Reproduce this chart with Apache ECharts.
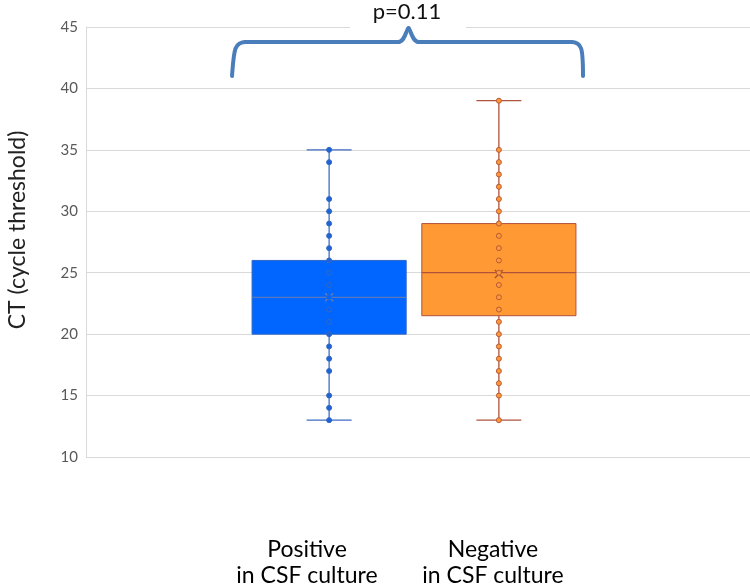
<!DOCTYPE html>
<html>
<head>
<meta charset="utf-8">
<script src="https://cdn.jsdelivr.net/npm/echarts@6/dist/echarts.min.js"></script>
<style>html,body{margin:0;padding:0;background:#fff}#c{width:750px;height:587px}</style>
</head>
<body>
<div id="c"></div>
<script>
// ---- data ----
const categories = ['Positive\nin CSF culture', 'Negative\nin CSF culture'];
const yTicks = [10, 15, 20, 25, 30, 35, 40, 45];
// [min, Q1, median, Q3, max, mean]
const positiveStats = [13, 20, 23, 26, 35, 23];
const negativeStats = [13, 21.5, 25, 29, 39, 24.9];
const positivePoints = [35, 34, 31, 30, 29, 28, 27, 26, 25, 24, 23, 22, 21, 20, 19, 18, 17, 15, 14, 13];
const negativePoints = [39, 35, 34, 33, 32, 31, 30, 29, 28, 27, 26, 25, 24, 23, 22, 21, 20, 19, 18, 17, 16, 15, 13];
const pValueText = 'p=0.11';
const yAxisTitle = 'CT (cycle threshold)';

const FONT = 'Lato, "Open Sans", sans-serif';
const styles = [
  { fill: '#0066FF', border: '#2F66C8', whisker: '#3F6DC2', median: '#5A79B8', mean: '#6D80B0', ptFill: '#1E64D8', ptBorder: '#3468BE' },
  { fill: '#FF9933', border: '#B0533C', whisker: '#B0533C', median: '#B0533C', mean: '#A4503A', ptFill: '#FF9933', ptBorder: '#B85A3A' }
];

const chart = echarts.init(document.getElementById('c'), null, { renderer: 'canvas' });

const boxData = [
  [0].concat(positiveStats),
  [1].concat(negativeStats)
];

const yMin = yTicks[0], yMax = yTicks[yTicks.length - 1];

function yAxisBase(idx, show) {
  return {
    type: 'value', gridIndex: idx, min: yMin, max: yMax, interval: 5,
    show: show
  };
}

const option = {
  animation: false,
  backgroundColor: '#fff',
  grid: [
    { left: 86, right: 0, top: 27, height: 430, containLabel: false, outerBoundsMode: 'none' },
    { left: 244.25, width: 339.5, top: 27, height: 430, containLabel: false, outerBoundsMode: 'none' },
    { left: 214, width: 372, top: 27, height: 430, containLabel: false, outerBoundsMode: 'none' }
  ],
  xAxis: [
    { type: 'category', gridIndex: 0, data: [''], show: false },
    { type: 'category', gridIndex: 1, data: categories, show: false },
    { type: 'category', gridIndex: 2, data: categories,
      axisLine: { show: false }, axisTick: { show: false },
      axisLabel: { margin: 80, fontSize: 23, lineHeight: 26, color: '#000', fontFamily: FONT, interval: 0 } }
  ],
  yAxis: [
    Object.assign(yAxisBase(0, true), {
      axisLine: { show: true, lineStyle: { color: '#d9d9d9', width: 1 } },
      axisTick: { show: false },
      axisLabel: { margin: 8, fontSize: 15, color: '#595959', fontFamily: FONT },
      splitLine: { show: true, lineStyle: { color: '#d9d9d9', width: 1 } }
    }),
    yAxisBase(1, false),
    yAxisBase(2, false)
  ],
  series: [
    {
      type: 'custom',
      xAxisIndex: 1, yAxisIndex: 1,
      z: 2,
      data: boxData,
      renderItem: function (params, api) {
        const ci = api.value(0);
        const s = styles[ci];
        const band = api.size([1, 0])[0];
        const bw = band * 0.908;
        const cw = band * 0.265;
        const pMin = api.coord([ci, api.value(1)]);
        const pQ1 = api.coord([ci, api.value(2)]);
        const pMed = api.coord([ci, api.value(3)]);
        const pQ3 = api.coord([ci, api.value(4)]);
        const pMax = api.coord([ci, api.value(5)]);
        const pMean = api.coord([ci, api.value(6)]);
        const x = pMed[0];
        const m = 4;
        return {
          type: 'group',
          children: [
            { type: 'line', shape: { x1: x, y1: pMax[1], x2: x, y2: pMin[1] }, style: { stroke: s.whisker, lineWidth: 1.3 } },
            { type: 'line', shape: { x1: x - cw / 2, y1: pMax[1], x2: x + cw / 2, y2: pMax[1] }, style: { stroke: s.whisker, lineWidth: 1.3 } },
            { type: 'line', shape: { x1: x - cw / 2, y1: pMin[1], x2: x + cw / 2, y2: pMin[1] }, style: { stroke: s.whisker, lineWidth: 1.3 } },
            { type: 'rect', shape: { x: x - bw / 2, y: pQ3[1], width: bw, height: pQ1[1] - pQ3[1] }, style: { fill: s.fill, stroke: s.border, lineWidth: 1 } },
            { type: 'line', shape: { x1: x - bw / 2, y1: pMed[1], x2: x + bw / 2, y2: pMed[1] }, style: { stroke: s.median, lineWidth: 1.2 } },
            { type: 'line', z2: 20, shape: { x1: pMean[0] - m, y1: pMean[1] - m, x2: pMean[0] + m, y2: pMean[1] + m }, style: { stroke: s.mean, lineWidth: 1.3 } },
            { type: 'line', z2: 20, shape: { x1: pMean[0] - m, y1: pMean[1] + m, x2: pMean[0] + m, y2: pMean[1] - m }, style: { stroke: s.mean, lineWidth: 1.3 } }
          ]
        };
      }
    },
    {
      type: 'scatter', xAxisIndex: 1, yAxisIndex: 1, z: 3,
      symbol: 'circle', symbolSize: 5,
      data: positivePoints.map(v => [0, v]),
      itemStyle: {
        color: function (p) { const v = p.value[1]; return (v > positiveStats[1] && v < positiveStats[3]) ? styles[0].fill : styles[0].ptFill; },
        borderColor: styles[0].ptBorder, borderWidth: 1, opacity: 1
      }
    },
    {
      type: 'scatter', xAxisIndex: 1, yAxisIndex: 1, z: 3,
      symbol: 'circle', symbolSize: 5,
      data: negativePoints.map(v => [1, v]),
      itemStyle: { color: styles[1].ptFill, borderColor: styles[1].ptBorder, borderWidth: 1, opacity: 1 }
    }
  ],
  graphic: [
    { type: 'text', z: 51, x: 18, y: 230, rotation: Math.PI / 2, style: { text: yAxisTitle, fontSize: 23, fontFamily: FONT, fill: '#222', align: 'center', verticalAlign: 'middle' } },
    { type: 'rect', z: 50, shape: { x: 350, y: 0, width: 116, height: 36 }, style: { fill: '#fff' } },
    { type: 'text', z: 51, x: 407, y: 12, style: { text: pValueText, fontSize: 22, fontFamily: FONT, fill: '#111', align: 'center', verticalAlign: 'middle' } },
    { type: 'bezierCurve', z: 52, shape: { x1: 232, y1: 76, cpx1: 234, cpy1: 50, cpx2: 234, cpy2: 42, x2: 246, y2: 42 }, style: { stroke: '#4A7EBB', lineWidth: 4, fill: null, lineCap: 'round' } },
    { type: 'line', z: 52, shape: { x1: 245, y1: 42, x2: 399, y2: 42 }, style: { stroke: '#4A7EBB', lineWidth: 4, lineCap: 'round' } },
    { type: 'bezierCurve', z: 52, shape: { x1: 398, y1: 42, cpx1: 405, cpy1: 42, cpx2: 406, cpy2: 30, x2: 408.5, y2: 28 }, style: { stroke: '#4A7EBB', lineWidth: 4, fill: null, lineCap: 'round' } },
    { type: 'bezierCurve', z: 52, shape: { x1: 408.5, y1: 28, cpx1: 411, cpy1: 30, cpx2: 412, cpy2: 42, x2: 419, y2: 42 }, style: { stroke: '#4A7EBB', lineWidth: 4, fill: null, lineCap: 'round' } },
    { type: 'line', z: 52, shape: { x1: 418, y1: 42, x2: 572, y2: 42 }, style: { stroke: '#4A7EBB', lineWidth: 4, lineCap: 'round' } },
    { type: 'bezierCurve', z: 52, shape: { x1: 571, y1: 42, cpx1: 582, cpy1: 42, cpx2: 583, cpy2: 48, x2: 583, y2: 76 }, style: { stroke: '#4A7EBB', lineWidth: 4, fill: null, lineCap: 'round' } }
  ]
};

chart.setOption(option);
</script>
</body>
</html>
